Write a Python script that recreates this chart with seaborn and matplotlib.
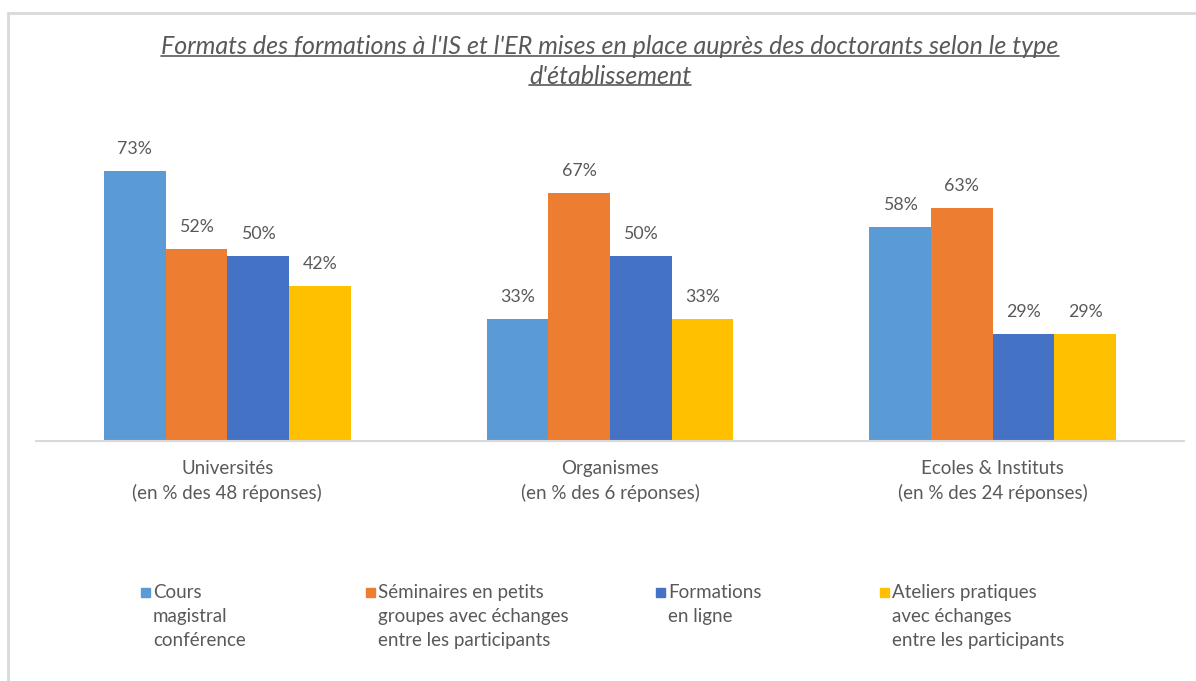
import pandas as pd
import seaborn as sns
import matplotlib.pyplot as plt
from matplotlib.lines import Line2D
from matplotlib.patches import Rectangle

# Data
etablissements = ["Universités\n(en % des 48 réponses)",
                  "Organismes\n(en % des 6 réponses)",
                  "Ecoles & Instituts\n(en % des 24 réponses)"]
formats = ["Cours magistral conférence",
           "Séminaires en petits groupes avec échanges entre les participants",
           "Formations en ligne",
           "Ateliers pratiques avec échanges entre les participants"]
legend_labels = ["Cours\nmagistral\nconférence",
                 "Séminaires en petits\ngroupes avec échanges\nentre les participants",
                 "Formations\nen ligne",
                 "Ateliers pratiques\navec échanges\nentre les participants"]
cours = [73, 33, 58]
seminaires = [52, 67, 63]
en_ligne = [50, 50, 29]
ateliers = [42, 33, 29]
colors = ["#5B9BD5", "#ED7D31", "#4472C4", "#FFC000"]

title_lines = ["Formats des formations à l'IS et l'ER mises en place auprès des doctorants selon le type",
               "d'établissement"]

rows = []
for f, vals in zip(formats, [cours, seminaires, en_ligne, ateliers]):
    for e, v in zip(etablissements, vals):
        rows.append({"etab": e, "format": f, "val": v})
df = pd.DataFrame(rows)

sns.set_theme(style="white")
plt.rcParams['font.family'] = ['Lato', 'DejaVu Sans']
text_color = "#595959"

W, H = 1196, 681
fig = plt.figure(figsize=(W / 100, H / 100), dpi=100)
ax = fig.add_axes([36 / W, 1 - 441 / H, 1148 / W, (441 - 120) / H])

sns.barplot(data=df, x="etab", y="val", hue="format", hue_order=formats,
            palette=colors, width=0.645, gap=0, ax=ax, legend=False,
            saturation=1, edgecolor="none", linewidth=0)

for cont in ax.containers:
    ax.bar_label(cont, labels=[f"{b.get_height():.0f}%" for b in cont],
                 padding=10, fontsize=12.8, color=text_color)

ax.set_xlim(-0.5, 2.5)
ax.set_ylim(0, 86.8)
ax.set_xlabel("")
ax.set_ylabel("")
ax.set_yticks([])
for s in ["top", "right", "left"]:
    ax.spines[s].set_visible(False)
ax.spines["bottom"].set_color("#d9d9d9")
ax.spines["bottom"].set_linewidth(1.5)
ax.tick_params(axis="x", length=0, pad=13.5, labelsize=13.5, labelcolor=text_color)
for lab in ax.get_xticklabels():
    lab.set_linespacing(1.5)

# outer frame (left and top visible)
fig.add_artist(Line2D([8 / W, 8 / W], [-0.1, 1 - 13 / H], color="#d9d9d9", lw=2))
fig.add_artist(Line2D([8 / W, 1.1], [1 - 13 / H, 1 - 13 / H], color="#d9d9d9", lw=2))

# title, underlined
title_texts = []
for i, line in enumerate(title_lines):
    t = fig.text(610 / W, 1 - (47 + 29 * i) / H, line, ha="center", va="center",
                 fontsize=18, style="italic", color=text_color)
    title_texts.append(t)
fig.canvas.draw()
renderer = fig.canvas.get_renderer()
for t in title_texts:
    bb = t.get_window_extent(renderer)
    y = (bb.y0 + 3) / H
    fig.add_artist(Line2D([bb.x0 / W, bb.x1 / W], [y, y], color=text_color, lw=1.2))

# legend
leg_x = [141, 366, 656, 880]
for x, lab, c in zip(leg_x, legend_labels, colors):
    fig.add_artist(Rectangle((x / W, 1 - 597 / H), 9 / W, 9 / H, color=c,
                             transform=fig.transFigure))
    fig.text((x + 12) / W, 1 - 584 / H, lab, ha="left", va="top",
             fontsize=13.5, color=text_color, linespacing=1.5)

plt.savefig("out.png", dpi=100)
